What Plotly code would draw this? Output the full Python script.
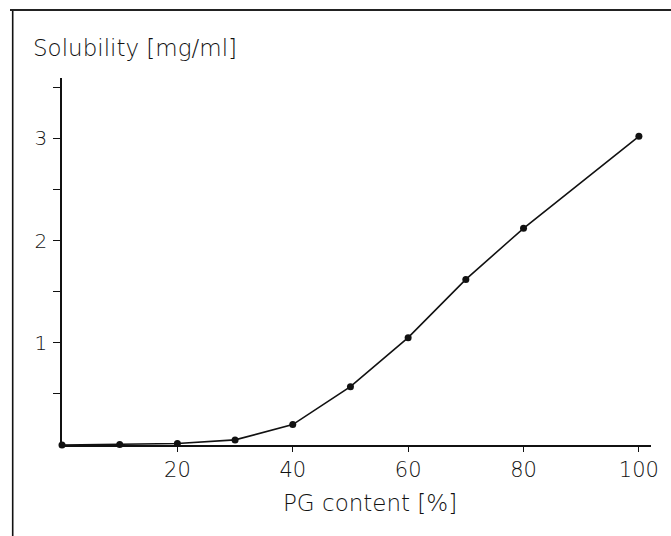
import plotly.graph_objects as go

# Data
pg_content = [0, 10, 20, 30, 40, 50, 60, 70, 80, 100]
solubility = [0.0, 0.005, 0.015, 0.05, 0.2, 0.57, 1.05, 1.62, 2.12, 3.02]

x_tickvals = [20, 40, 60, 80, 100]
x_ticktext = ["20", "40", "60", "80", "100"]
y_tickvals = [0.5, 1, 1.5, 2, 2.5, 3, 3.5]
y_ticktext = ["", "1", "", "2", "", "3", ""]

W, H = 671, 536
ML, MR, MT, MB = 62, 20, 78, 91
pw = W - ML - MR
ph = H - MT - MB

def px_to_paper_x(px):
    return (px - ML) / pw

def px_to_paper_y(py):
    return (H - MB - py) / ph

FONT = "DejaVu Sans"
INK = "#111111"

fig = go.Figure()
fig.add_trace(go.Scatter(
    x=pg_content, y=solubility, mode="lines+markers",
    line=dict(color=INK, width=1.6),
    marker=dict(color=INK, size=7),
    cliponaxis=False, showlegend=False,
))

fig.update_layout(
    width=W, height=H,
    margin=dict(l=ML, r=MR, t=MT, b=MB, pad=0),
    paper_bgcolor="white", plot_bgcolor="white",
    font=dict(family=FONT, color=INK, size=20, weight=200),
    xaxis=dict(
        range=[0, 102.1], showgrid=False, zeroline=False,
        showline=True, linecolor=INK, linewidth=1.5,
        ticks="outside", ticklen=5, tickwidth=1.2, tickcolor=INK,
        tickvals=x_tickvals, ticktext=x_ticktext,
        tickfont=dict(size=21, family=FONT, color=INK, weight=200),
        ticklabelstandoff=0,
    ),
    yaxis=dict(
        range=[0, 3.59], showgrid=False, zeroline=False,
        showline=True, linecolor=INK, linewidth=1.5,
        ticks="outside", ticklen=7, tickwidth=1.2, tickcolor=INK,
        tickvals=y_tickvals, ticktext=y_ticktext,
        tickfont=dict(size=20, family=FONT, color=INK, weight=200),
        ticklabelstandoff=2,
    ),
    annotations=[
        dict(text="Solubility [mg/ml]", xref="paper", yref="paper",
             x=px_to_paper_x(31), y=px_to_paper_y(48),
             xanchor="left", yanchor="middle", showarrow=False,
             font=dict(size=23, family=FONT, color=INK, weight=200)),
        dict(text="PG content [%]", xref="paper", yref="paper",
             x=px_to_paper_x(370), y=px_to_paper_y(503),
             xanchor="center", yanchor="middle", showarrow=False,
             font=dict(size=23, family=FONT, color=INK, weight=200)),
    ],
    shapes=[
        dict(type="line", xref="paper", yref="paper",
             x0=px_to_paper_x(12.7), x1=px_to_paper_x(12.7),
             y0=px_to_paper_y(10), y1=px_to_paper_y(540),
             line=dict(color=INK, width=1.6)),
        dict(type="line", xref="paper", yref="paper",
             x0=px_to_paper_x(10), x1=px_to_paper_x(675),
             y0=px_to_paper_y(10), y1=px_to_paper_y(10),
             line=dict(color="#222222", width=2)),
    ],
)

fig.write_html("out.html")
